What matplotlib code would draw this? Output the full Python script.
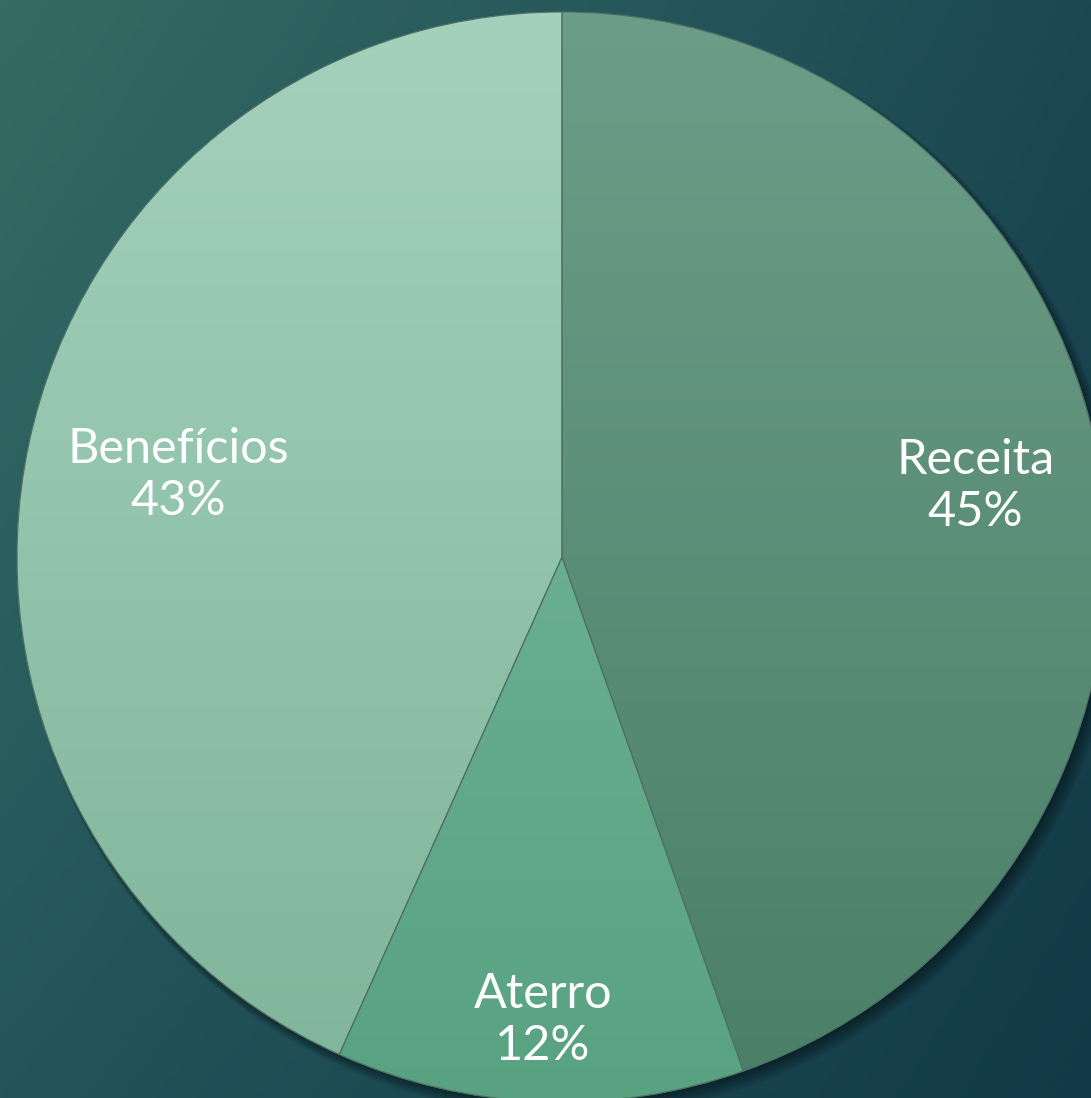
import matplotlib.pyplot as plt
import numpy as np
from matplotlib.colors import LinearSegmentedColormap, to_rgb
from matplotlib.patches import Circle, Wedge

labels = ['Receita', 'Aterro', 'Benefícios']
values = [44.6, 12.1, 43.3]
# top / bottom colour of each wedge's vertical gradient
top_colors = ['#6c9d88', '#7abb9f', '#a4d1bc']
bottom_colors = ['#4a7f67', '#58a282', '#7fb59a']
label_dist = [0.77, 0.85, 0.72]

W, H, DPI = 1091, 1098, 100
fig = plt.figure(figsize=(W / DPI, H / DPI), dpi=DPI)

# background: diagonal gradient
bg = fig.add_axes([0, 0, 1, 1])
bg.set_axis_off()
tl, tr = np.array(to_rgb('#346c64')), np.array(to_rgb('#1c4853'))
bl, br = np.array(to_rgb('#23555a')), np.array(to_rgb('#123947'))
u = np.linspace(0, 1, 200)[None, :, None]
v = np.linspace(0, 1, 200)[:, None, None]
img = (1 - v) * ((1 - u) * tl + u * tr) + v * ((1 - u) * bl + u * br)
bg.imshow(img, extent=[0, 1, 0, 1], aspect='auto', origin='upper')
bg.set_xlim(0, 1)
bg.set_ylim(0, 1)

cx, cy, r = 562, 557, 545
ax = fig.add_axes([(cx - r) / W, (H - cy - r) / H, 2 * r / W, 2 * r / H])
ax.set_axis_off()

# soft shadow under the pie
for k in range(6):
    ax.add_patch(Circle((0.004 + k * 0.002, -0.006 - k * 0.002), 1.0 + k * 0.002,
                        color='black', alpha=0.08, lw=0, zorder=0))

wedges, _ = ax.pie(values, startangle=90, counterclock=False, radius=1,
                   colors=bottom_colors,
                   wedgeprops=dict(edgecolor='#4f6f65', linewidth=0.8, zorder=1))

grad = np.linspace(0, 1, 256)[:, None]
for w, c0, c1 in zip(wedges, top_colors, bottom_colors):
    cmap = LinearSegmentedColormap.from_list('g', [c0, c1])
    im = ax.imshow(grad, extent=[-1, 1, -1, 1], cmap=cmap, aspect='auto',
                   origin='upper', zorder=1.5)
    im.set_clip_path(w)
    ax.add_patch(Wedge(w.center, w.r, w.theta1, w.theta2, fill=False,
                       edgecolor='#4f6f65', linewidth=0.8, zorder=2))

ax.set_xlim(-1, 1)
ax.set_ylim(-1, 1)
ax.set_aspect('equal')

for w, lab, val, d in zip(wedges, labels, values, label_dist):
    ang = np.deg2rad((w.theta1 + w.theta2) / 2)
    ax.text(d * np.cos(ang), d * np.sin(ang), f'{lab}\n{round(val)}%',
            ha='center', va='center', color='white', fontsize=35,
            family=['Lato', 'DejaVu Sans'], fontweight='normal',
            linespacing=1.22, zorder=3)

fig.savefig('out.png', dpi=DPI)
